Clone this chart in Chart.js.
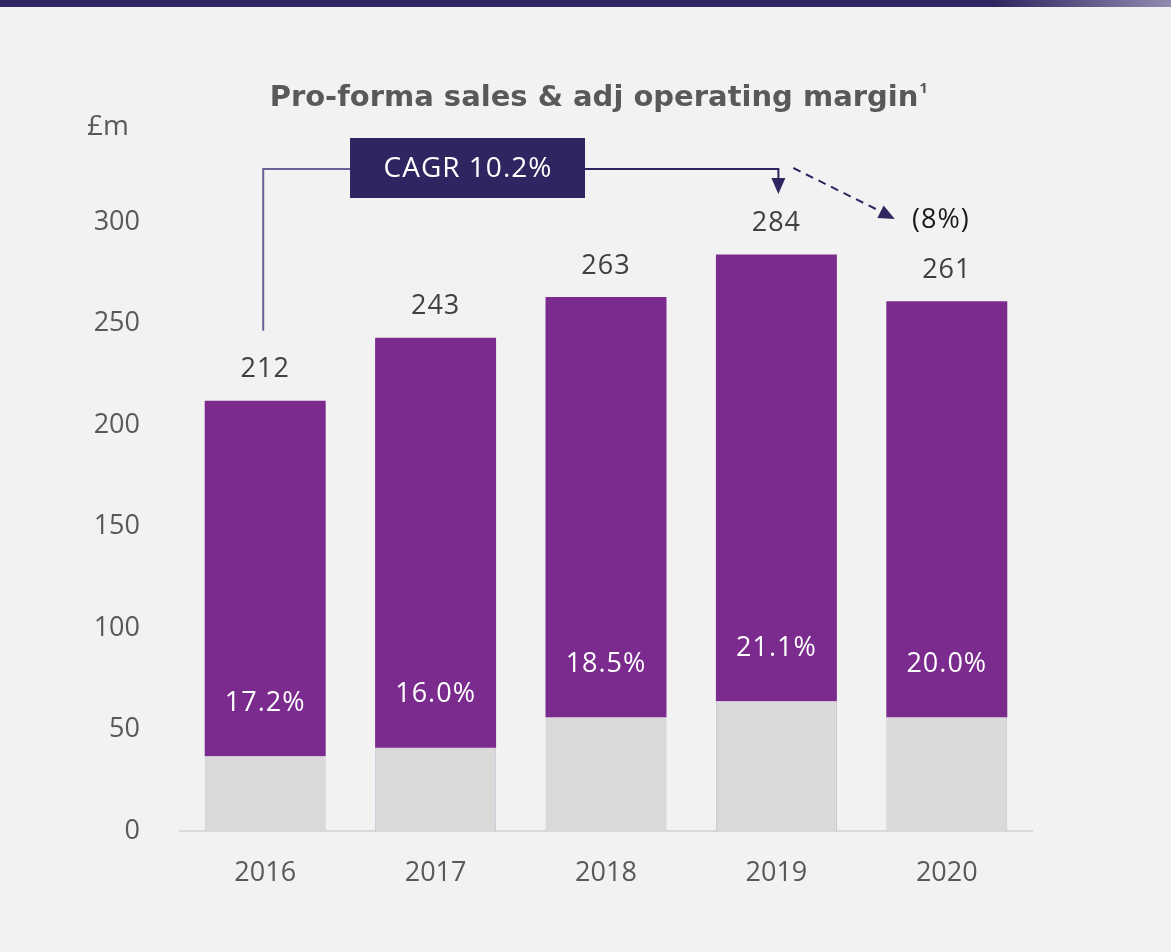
<!DOCTYPE html>
<html>
<head>
<meta charset="utf-8">
<script src="https://cdn.jsdelivr.net/npm/chart.js@4.4.0/dist/chart.umd.min.js"></script>
<style>
  html, body { margin: 0; padding: 0; background: #f2f2f2; }
  #wrap { width: 1171px; height: 952px; }
</style>
</head>
<body>
<div id="wrap"><canvas id="myChart" width="1171" height="952"></canvas></div>
<script>
var years = ["2016", "2017", "2018", "2019", "2020"];
var sales = [212, 243, 263, 284, 261];
var profit = [37, 41, 56, 64, 56];
var margins = ["17.2%", "16.0%", "18.5%", "21.1%", "20.0%"];
var yTicks = [0, 50, 100, 150, 200, 250, 300];

var fontFamily = "'Open Sans', sans-serif";
var rest = sales.map(function (s, i) { return s - profit[i]; });

var overlay = {
    id: "overlay",
    beforeDraw: function (chart) {
        var ctx = chart.ctx;
        ctx.save();
        ctx.fillStyle = "#f2f2f2";
        ctx.fillRect(0, 0, chart.width, chart.height);
        var g = ctx.createLinearGradient(0, 0, chart.width, 0);
        g.addColorStop(0, "#2e2660");
        g.addColorStop(0.85, "#2e2660");
        g.addColorStop(1, "#8f8bb0");
        ctx.fillStyle = g;
        ctx.fillRect(0, 0, chart.width, 7);
        ctx.restore();
    },
    afterDraw: function (chart) {
        var ctx = chart.ctx;
        var x = chart.scales.x, y = chart.scales.y;
        ctx.save();

        // title
        ctx.fillStyle = "#595959";
        ctx.font = "bold 29px 'DejaVu Sans', sans-serif";
        ctx.textBaseline = "middle";
        ctx.textAlign = "center";
        var title = "Pro-forma sales & adj operating margin";
        var tw = ctx.measureText(title).width;
        ctx.fillText(title, 594, 98);
        ctx.font = "bold 15px " + fontFamily;
        ctx.textAlign = "left";
        ctx.fillText("1", 594 + tw / 2 + 1, 89);

        // unit
        ctx.font = "28px " + fontFamily;
        ctx.textAlign = "center";
        ctx.fillText("£m", 108, 127);

        // value labels and margins
        ctx.letterSpacing = "1px";
        for (var i = 0; i < years.length; i++) {
            var cx = x.getPixelForValue(i);
            ctx.fillStyle = "#404040";
            ctx.font = "27px " + fontFamily;
            ctx.fillText(sales[i], cx, y.getPixelForValue(sales[i]) - 31);
            ctx.fillStyle = "#ffffff";
            ctx.fillText(margins[i], cx, y.getPixelForValue(profit[i]) - 53);
        }

        // CAGR annotation
        var lineY = 169;
        var x0 = x.getPixelForValue(0);
        var x3 = x.getPixelForValue(3);
        var x4 = x.getPixelForValue(4);
        ctx.lineWidth = 2;
        ctx.strokeStyle = "#6a6296";
        ctx.beginPath();
        ctx.moveTo(x0 - 2, y.getPixelForValue(sales[0]) - 70);
        ctx.lineTo(x0 - 2, lineY);
        ctx.lineTo(352, lineY);
        ctx.stroke();

        ctx.strokeStyle = "#2e2660";
        ctx.beginPath();
        ctx.moveTo(585, lineY);
        ctx.lineTo(x3 + 2, lineY);
        ctx.lineTo(x3 + 2, 180);
        ctx.stroke();
        ctx.fillStyle = "#2e2660";
        ctx.beginPath();
        ctx.moveTo(x3 + 2 - 7, 178);
        ctx.lineTo(x3 + 2 + 7, 178);
        ctx.lineTo(x3 + 2, 194);
        ctx.closePath();
        ctx.fill();

        ctx.fillRect(350, 138, 235, 60);
        ctx.fillStyle = "#ffffff";
        ctx.font = "28px " + fontFamily;
        ctx.fillText("CAGR 10.2%", 468, 169);

        // dashed arrow to 2020
        var ax0 = x3 + 17, ay0 = 168, ax1 = x4 - 52, ay1 = 219;
        ctx.setLineDash([8, 6]);
        ctx.beginPath();
        ctx.moveTo(ax0, ay0);
        ctx.lineTo(ax1 - 9, ay1 - 5);
        ctx.stroke();
        ctx.setLineDash([]);
        var ang = Math.atan2(ay1 - ay0, ax1 - ax0);
        ctx.fillStyle = "#2e2660";
        ctx.beginPath();
        ctx.moveTo(ax1, ay1);
        ctx.lineTo(ax1 - 16 * Math.cos(ang) + 7 * Math.sin(ang), ay1 - 16 * Math.sin(ang) - 7 * Math.cos(ang));
        ctx.lineTo(ax1 - 16 * Math.cos(ang) - 7 * Math.sin(ang), ay1 - 16 * Math.sin(ang) + 7 * Math.cos(ang));
        ctx.closePath();
        ctx.fill();
        ctx.fillStyle = "#1a1a1a";
        ctx.textAlign = "left";
        ctx.font = "27px " + fontFamily;
        ctx.fillText("(8%)", 912, 220);

        ctx.restore();
    }
};

new Chart("myChart", {
    type: "bar",
    data: {
        labels: years,
        datasets: [{
            data: profit,
            backgroundColor: "#d9d9d9",
            borderColor: "rgba(123,42,142,0.25)",
            borderWidth: 1,
            borderSkipped: "bottom"
        }, {
            data: rest,
            backgroundColor: "#7b2a8e",
            borderWidth: 0
        }]
    },
    options: {
        responsive: false,
        animation: false,
        events: [],
        layout: { padding: { top: 222, right: 139, left: 0, bottom: 0 } },
        plugins: { legend: { display: false }, tooltip: { enabled: false } },
        datasets: { bar: { categoryPercentage: 1, barPercentage: 0.71 } },
        scales: {
            x: {
                stacked: true,
                grid: { display: false },
                border: { display: true, color: "#d9d9d9", width: 2 },
                ticks: { color: "#595959", font: { family: fontFamily, size: 27 }, padding: 18 },
                afterFit: function (s) { s.height = 121; }
            },
            y: {
                stacked: true,
                min: 0,
                max: 300,
                grid: { display: false },
                border: { display: false },
                afterBuildTicks: function (s) { s.ticks = yTicks.map(function (v) { return { value: v }; }); },
                ticks: { color: "#595959", font: { family: fontFamily, size: 27 }, padding: 32 },
                afterFit: function (s) { s.width = 180; }
            }
        }
    },
    plugins: [overlay]
});
</script>
</body>
</html>
